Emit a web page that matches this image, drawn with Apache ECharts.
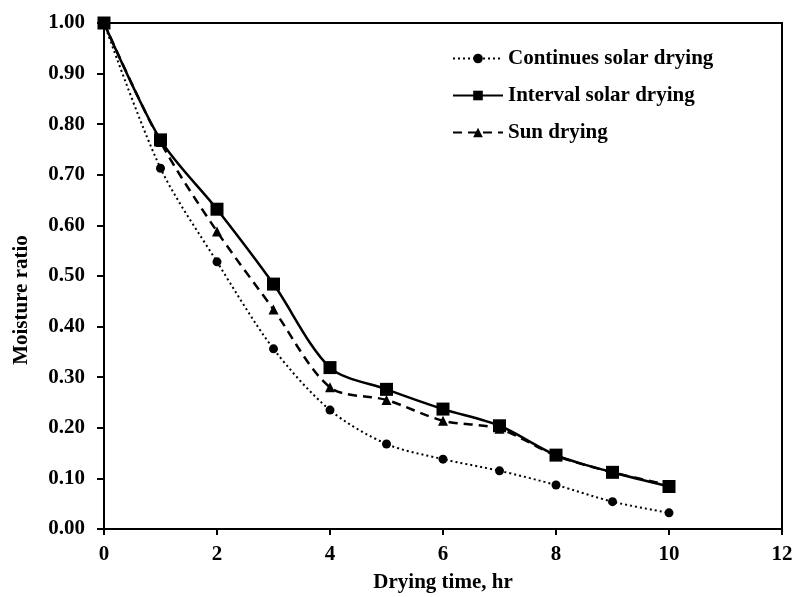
<!DOCTYPE html>
<html>
<head>
<meta charset="utf-8">
<script src="https://cdn.jsdelivr.net/npm/echarts@6/dist/echarts.min.js"></script>
<style>
  html, body { margin: 0; padding: 0; background: #fff; }
  #chart { width: 795px; height: 597px; }
</style>
</head>
<body>
<div id="chart"></div>
<script>
// drying time, hr
var hours = [0, 1, 2, 3, 4, 5, 6, 7, 8, 9, 10];
// moisture ratio
var continuousSolar = [1.00, 0.713, 0.528, 0.356, 0.235, 0.168, 0.138, 0.115, 0.087, 0.054, 0.032];
var intervalSolar = [1.00, 0.769, 0.632, 0.484, 0.319, 0.276, 0.237, 0.204, 0.146, 0.112, 0.084];
var sunDrying = [1.00, 0.765, 0.588, 0.434, 0.280, 0.255, 0.214, 0.198, 0.145, 0.112, 0.087];
var seriesNames = ['Continues solar drying', 'Interval solar drying', 'Sun drying'];

function pairs(vals) {
    return hours.map(function (h, i) { return [h, vals[i]]; });
}

var font = 'Liberation Serif';
var chart = echarts.init(document.getElementById('chart'));
var option = {
    animation: false,
    textStyle: { fontFamily: font, fontWeight: 'bold', color: '#000' },
    grid: {
        left: 104, right: 13, top: 23, bottom: 68,
        outerBoundsMode: 'none',
        containLabel: false,
        show: true, borderColor: '#000', borderWidth: 2
    },
    legend: {
        orient: 'vertical',
        left: 447,
        top: 43,
        itemWidth: 50,
        itemHeight: 12,
        itemGap: 16,
        data: seriesNames,
        textStyle: { fontFamily: font, fontWeight: 'bold', fontSize: 21, color: '#000' }
    },
    xAxis: {
        type: 'value',
        min: 0, max: 12, interval: 2,
        name: 'Drying time, hr',
        nameLocation: 'middle',
        nameGap: 43,
        nameTextStyle: { fontFamily: font, fontWeight: 'bold', fontSize: 21, color: '#000' },
        axisLine: { lineStyle: { color: '#000', width: 2 } },
        axisTick: { inside: false, length: 6, lineStyle: { color: '#000', width: 2 } },
        axisLabel: { fontFamily: font, fontWeight: 'bold', fontSize: 21, color: '#000', margin: 15 },
        splitLine: { show: false }
    },
    yAxis: {
        type: 'value',
        min: 0, max: 1, interval: 0.1,
        name: 'Moisture ratio',
        nameLocation: 'middle',
        nameGap: 72,
        nameTextStyle: { fontFamily: font, fontWeight: 'bold', fontSize: 21, color: '#000', padding: [0, 48, 0, 0] },
        axisLine: { lineStyle: { color: '#000', width: 2 } },
        axisTick: { inside: false, length: 7, lineStyle: { color: '#000', width: 2 } },
        axisLabel: {
            fontFamily: font, fontWeight: 'bold', fontSize: 21, color: '#000', margin: 19,
            formatter: function (v) { return v.toFixed(2); }
        },
        splitLine: { show: false }
    },
    series: [
        {
            name: seriesNames[0],
            type: 'line',
            smooth: 0.3,
            data: pairs(continuousSolar),
            symbol: 'circle',
            symbolSize: 9,
            itemStyle: { color: '#000' },
            lineStyle: { color: '#000', width: 2, type: [2, 3] }
        },
        {
            name: seriesNames[2],
            type: 'line',
            smooth: 0.3,
            data: pairs(sunDrying),
            symbol: 'triangle',
            symbolSize: 10,
            itemStyle: { color: '#000' },
            lineStyle: { color: '#000', width: 2.5, type: [9, 6] }
        },
        {
            name: seriesNames[1],
            type: 'line',
            smooth: 0.3,
            data: pairs(intervalSolar),
            symbol: 'rect',
            symbolSize: 13,
            itemStyle: { color: '#000' },
            lineStyle: { color: '#000', width: 2.5 }
        }
    ]
};
chart.setOption(option);
</script>
</body>
</html>
